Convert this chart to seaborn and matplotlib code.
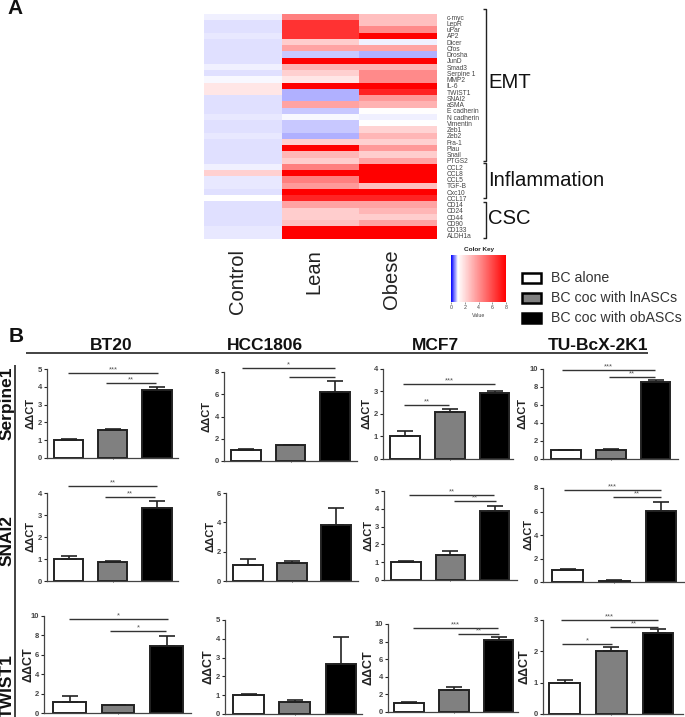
import numpy as np
import pandas as pd
import seaborn as sns
import matplotlib.pyplot as plt
from matplotlib.colors import LinearSegmentedColormap
from matplotlib.lines import Line2D
from matplotlib.patches import Rectangle

W, H = 685, 717

genes = ['c-myc', 'LepR', 'uPar', 'AP2', 'Dicer', 'Cfos', 'Drosha', 'JunD', 'Smad3', 'Serpine 1', 'MMP2', 'IL-6',
         'TWIST1', 'SNAI2', 'aSMA', 'E cadherin', 'N cadherin', 'Vimentin', 'Zeb1', 'Zeb2', 'Fra-1', 'Plau', 'Snail',
         'PTGS2', 'CCL2', 'CCL8', 'CCL5', 'TGF-B', 'Cxc10', 'CCL17', 'CD14', 'CD24', 'CD44', 'CD90', 'CD133', 'ALDH1a']
control = [.96, .88, .9, .91, .88, .88, .88, .88, .96, .9, .98, 1.7, 1.7, .88, .88, .88, .92, .9, .9, .91, .88, .88,
           .88, .88, .94, 2.3, .92, .92, .9, 1.03, .89, .89, .89, .89, .91, .91]
lean = [4.5, 6.6, 6.6, 6.6, 2.4, 3.5, .8, 8, 3.1, 2.3, 1.7, 8, .7, .7, 3.5, .8, .97, .8, .8, .7, 2.3, 8, 3, 2.4, 4.5, 8,
        4.5, 3.8, 8, 7, 3.5, 2.4, 2.4, 2.7, 8, 8]
obese = [2.75, 2.75, 4.2, 8, .95, 3.5, .7, 8, 3.1, 4.2, 4.2, 8, 7, 3.8, 3.1, 1.05, .95, 1.03, 2.2, 3, 2.3, 3.8, 2.4, 3.5,
         8, 8, 8, 2.8, 8, 7, 3.5, 3, 2.4, 3.5, 8, 8]
heat_cols = ['Control', 'Lean', 'Obese']
key_ticks = [0, 2, 4, 6, 8]

groups = ['BC alone', 'BC coc with lnASCs', 'BC coc with obASCs']
cell_lines = ['BT20', 'HCC1806', 'MCF7', 'TU-BcX-2K1']
markers = ['Serpine1', 'SNAI2', 'TWIST1']

serpine_vals = [[1.02, 1.57, 3.8], [1.0, 1.4, 6.2], [1.03, 2.1, 2.92], [1.0, 1.05, 8.6]]
serpine_errs = [[.02, .04, .17], [.1, .03, 1.0], [.22, .12, .12], [.02, .08, .2]]
serpine_ymax = [5, 8, 4, 10]
serpine_step = [1, 2, 1, 2]
snai_vals = [[1.0, .87, 3.3], [1.1, 1.22, 3.8], [1.02, 1.38, 3.85], [1.0, .12, 6.05]]
snai_errs = [[.15, .04, .33], [.43, .13, 1.2], [.04, .27, .3], [.07, .03, .8]]
snai_ymax = [4, 6, 5, 8]
snai_step = [1, 2, 1, 2]
twist_vals = [[1.1, .8, 6.9], [1.03, .65, 2.67], [1.0, 2.5, 8.2], [1.0, 2.0, 2.6]]
twist_errs = [[.65, .07, 1.05], [.05, .08, 1.45], [.1, .3, .35], [.08, .13, .1]]
twist_ymax = [10, 5, 10, 3]
twist_step = [2, 1, 2, 1]

# left, right, y0, ytop, first bar centre, last bar centre (pixels)
layout = [
    [(47, 178, 458, 369, 68.5, 157), (224, 357, 461, 372, 246, 335), (383, 513, 459, 369, 405, 494.5), (543, 678, 459, 369, 566, 655.5)],
    [(47, 178, 581, 493, 68.5, 157), (226, 358, 581, 493, 248, 336), (384, 517, 580, 491, 406, 494.5), (543, 685, 582, 488, 567.5, 661)],
    [(44, 191, 713, 616, 69.5, 166.5), (225, 362, 714, 620, 248.5, 341), (388, 518, 712, 624, 409, 498.5), (543, 683, 714, 620, 564.5, 658)],
]
# x of the ylabels (pixels)
label_x = [[31, 207, 367, 523], [31, 210, 369, 528], [28, 208, 368, 525]]
# significance lines: x0, x1, y, label (pixels)
sig_lines = [
    (68, 158, 373, '***'), (106, 156, 383, '**'), (242, 335, 368, '*'), (289, 335, 377, ''),
    (403, 495, 384, '***'), (404, 449, 405, '**'), (562, 655, 370, '***'), (609, 655, 377, '**'),
    (68, 157, 486, '**'), (105, 155, 497, '**'), (409, 494, 495, '**'), (454, 496, 501, '**'),
    (564, 661, 490, '***'), (613, 661, 497, '**'), (69, 168, 619, '*'), (110, 166, 631, '*'),
    (413, 498, 628, '***'), (458, 499, 634, '**'), (561, 658, 620, '***'), (610, 658, 627, '**'), (562, 612, 644, '*'),
]

sns.set_theme(style='white')
plt.rcParams['font.family'] = ['Liberation Sans', 'DejaVu Sans']

fig = plt.figure(figsize=(W / 100, H / 100), dpi=100)


def px_axes(left, right, top, bottom):
    return fig.add_axes([left / W, 1 - bottom / H, (right - left) / W, (bottom - top) / H])


def fx(x):
    return x / W


def fy(y):
    return 1 - y / H


def ftext(x, y, s, **kw):
    kw.setdefault('ha', 'center')
    kw.setdefault('va', 'center')
    fig.text(fx(x), fy(y), s, **kw)


def fline(xs, ys, color='#222222', lw=1.0):
    fig.add_artist(Line2D([fx(v) for v in xs], [fy(v) for v in ys], color=color, lw=lw, solid_capstyle='butt'))


# heatmap
cmap = LinearSegmentedColormap.from_list('key', [(0, '#0000ff'), (1 / 8, '#ffffff'), (1, '#ff0000')])
heat = pd.DataFrame({'Control': control, 'Lean': lean, 'Obese': obese}, index=genes)[heat_cols]
ax_heat = px_axes(204, 437, 14, 239)
ax_key = px_axes(451, 506, 255, 302)
sns.heatmap(heat, ax=ax_heat, cmap=cmap, vmin=0, vmax=8, cbar_ax=ax_key,
            cbar_kws={'orientation': 'horizontal', 'ticks': key_ticks})
ax_heat.set_xticks([])
ax_heat.set_yticks(np.arange(len(genes)) + 0.5)
ax_heat.set_yticklabels(genes, rotation=0, fontsize=4.8, color='#444444')
ax_heat.yaxis.tick_right()
ax_heat.tick_params(axis='y', length=0, pad=7)
ax_heat.set_xlabel('')
ax_heat.set_ylabel('')

ax_key.tick_params(axis='x', length=1.5, width=0.4, labelsize=3.8, pad=1, colors='#444444')
ax_key.set_xlabel('Value', fontsize=3.8, labelpad=2, color='#444444')
ax_key.set_title('Color Key', fontsize=4.6, fontweight='bold', pad=3, color='#222222')

for x, name in zip([237, 314, 392], heat_cols):
    ftext(x, 249, name, rotation=90, va='top', fontsize=14.5, color='#222222')

# brackets of the heatmap
for top, bottom in [(9, 161), (163, 198), (202, 238)]:
    fline([483, 486, 486, 483], [top, top, bottom, bottom], lw=1.0)
ftext(488, 82, 'EMT', ha='left', fontsize=14.6, color='#111111')
ftext(488, 181, 'Inflammation', ha='left', fontsize=14.6, color='#111111')
ftext(488, 218, 'CSC', ha='left', fontsize=14.6, color='#111111')

# legend
for y, face, name in zip([278, 298, 317.5], ['white', '#808080', 'black'], groups):
    fig.add_artist(Rectangle((fx(521.5), fy(y + 5)), 19 / W, 10 / H, transform=fig.transFigure,
                             facecolor=face, edgecolor='black', lw=1.8))
    ftext(551, y, name, ha='left', fontsize=10.2, color='#333333')

ftext(15, 8, 'A', fontsize=15, fontweight='bold', color='#111111')
ftext(16, 337, 'B', fontsize=15, fontweight='bold', color='#111111')

for x, name in zip([111, 265, 435, 598], cell_lines):
    ftext(x, 345, name, fontsize=12.5, fontweight='bold', color='#111111')
fline([26, 648], [353, 353], lw=1.2)
fline([15, 15], [365, 717], lw=1.2)
for y, name in zip([403, 541, 686], markers):
    ftext(7, y, name, rotation=90, fontsize=12.5, fontweight='bold', color='#111111')

# bar panels
all_vals = [serpine_vals, snai_vals, twist_vals]
all_errs = [serpine_errs, snai_errs, twist_errs]
all_ymax = [serpine_ymax, snai_ymax, twist_ymax]
all_step = [serpine_step, snai_step, twist_step]
palette = dict(zip(groups, ['white', '#808080', 'black']))

for r in range(len(markers)):
    for c in range(len(cell_lines)):
        left, right, y0, ytop, c0, c2 = layout[r][c]
        ax = px_axes(left, right, ytop, y0)
        df = pd.DataFrame({'group': groups, 'value': all_vals[r][c]})
        sns.barplot(data=df, x='group', y='value', hue='group', order=groups, palette=palette, dodge=False,
                    width=0.66, edgecolor='#222222', linewidth=1.4, errorbar=None, legend=False, ax=ax)
        for i, (v, e) in enumerate(zip(all_vals[r][c], all_errs[r][c])):
            ax.errorbar(i, v, yerr=[[0], [e]], color='#222222', capsize=5.5, elinewidth=1.2, capthick=1.2)
        sp = (c2 - c0) / 2
        ax.set_xlim((left - c0) / sp, (right - c0) / sp)
        ax.set_ylim(0, all_ymax[r][c])
        ax.set_yticks(np.arange(0, all_ymax[r][c] + 0.1, all_step[r][c]))
        ax.set_xticks([1])
        ax.set_xticklabels([''])
        ax.set_xlabel('')
        ax.set_ylabel('ΔΔCT', fontsize=9 if r == 2 else 8, fontweight='bold', color='#222222', va='center')
        ax.yaxis.set_label_coords(fx(label_x[r][c]), fy((y0 + ytop) / 2), transform=fig.transFigure)
        ax.patch.set_alpha(0)
        ax.tick_params(axis='y', length=2.5, width=0.8, labelsize=5.5, pad=1, left=True, labelcolor='#444444')
        ax.tick_params(axis='x', length=1, width=0.6, bottom=True)
        for lab in ax.get_yticklabels():
            lab.set_fontweight('bold')
        sns.despine(ax=ax)
        ax.spines['left'].set_color('#444444')
        ax.spines['bottom'].set_color('#444444')
        ax.spines['left'].set_linewidth(0.9)
        ax.spines['bottom'].set_linewidth(0.9)

for x0, x1, y, label in sig_lines:
    fline([x0, x1], [y, y], color='#333333', lw=1.0)
    if label:
        ftext((x0 + x1) / 2, y - 3.5, label, fontsize=5.5, color='#555555')

fig.savefig('out.png', dpi=100)
